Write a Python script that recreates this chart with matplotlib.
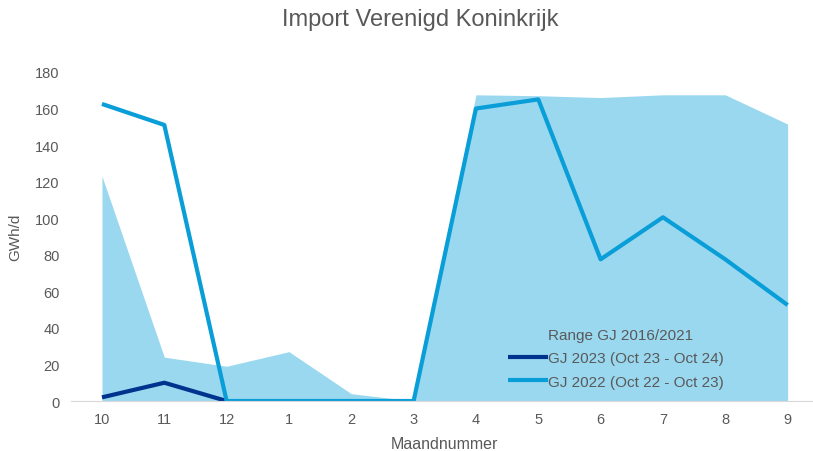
import matplotlib

matplotlib.use("Agg")
import matplotlib.pyplot as plt
import numpy as np

plt.rcParams["font.family"] = ["Liberation Sans", "DejaVu Sans"]

months = ["10", "11", "12", "1", "2", "3", "4", "5", "6", "7", "8", "9"]
range_min = [0, 0, 0, 0, 0, 0, 0, 0, 0, 0, 0, 0]
range_max = [123, 24, 19, 27, 4, 0, 167.5, 167, 166, 167.5, 167.5, 151.5]
gj2022 = [162.5, 151, 0, 0, 0, 0, 160, 165, 77.5, 100.5, 77.5, 52.5]
gj2023 = [2, 10, 0]

grey = "#595959"
fig = plt.figure(figsize=(8.13, 4.52), dpi=100)
ax = fig.add_axes([0.0871, 0.1106, 0.920, 0.728])
x = np.arange(len(months))

ax.fill_between(x, range_min, range_max, color="#9AD8F0", lw=0,
                label="Range GJ 2016/2021")
ax.plot(np.arange(len(gj2023)), gj2023, color="#00338D", lw=3,
        label="GJ 2023 (Oct 23 - Oct 24)", solid_capstyle="butt")
ax.plot(x, gj2022, color="#0A9ED8", lw=3,
        label="GJ 2022 (Oct 22 - Oct 23)", solid_capstyle="butt")

ax.set_xlim(-0.5, 11.5)
ax.set_ylim(0, 180)
ax.set_xticks(x)
ax.set_xticklabels(months)
ax.set_yticks(range(0, 181, 20))
ax.tick_params(length=0, labelsize=10.5, colors=grey, pad=8)
for s in ("top", "right", "left"):
    ax.spines[s].set_visible(False)
ax.spines["bottom"].set_color("#D9D9D9")
ax.set_xlabel("Maandnummer", fontsize=11.5, color=grey, labelpad=7)
ax.set_ylabel("GWh/d", fontsize=11, color=grey, labelpad=9)
fig.text(0.517, 0.955, "Import Verenigd Koninkrijk", ha="center", va="center",
         fontsize=17, color=grey)

leg = ax.legend(loc="lower left", bbox_to_anchor=(0.568, 0.0), frameon=False,
                fontsize=11, handlelength=2.6, handletextpad=0.05,
                labelspacing=0.62, borderaxespad=0.4)
for t in leg.get_texts():
    t.set_color(grey)
leg.legend_handles[0].set_visible(False)

fig.savefig("out.png", dpi=100)
